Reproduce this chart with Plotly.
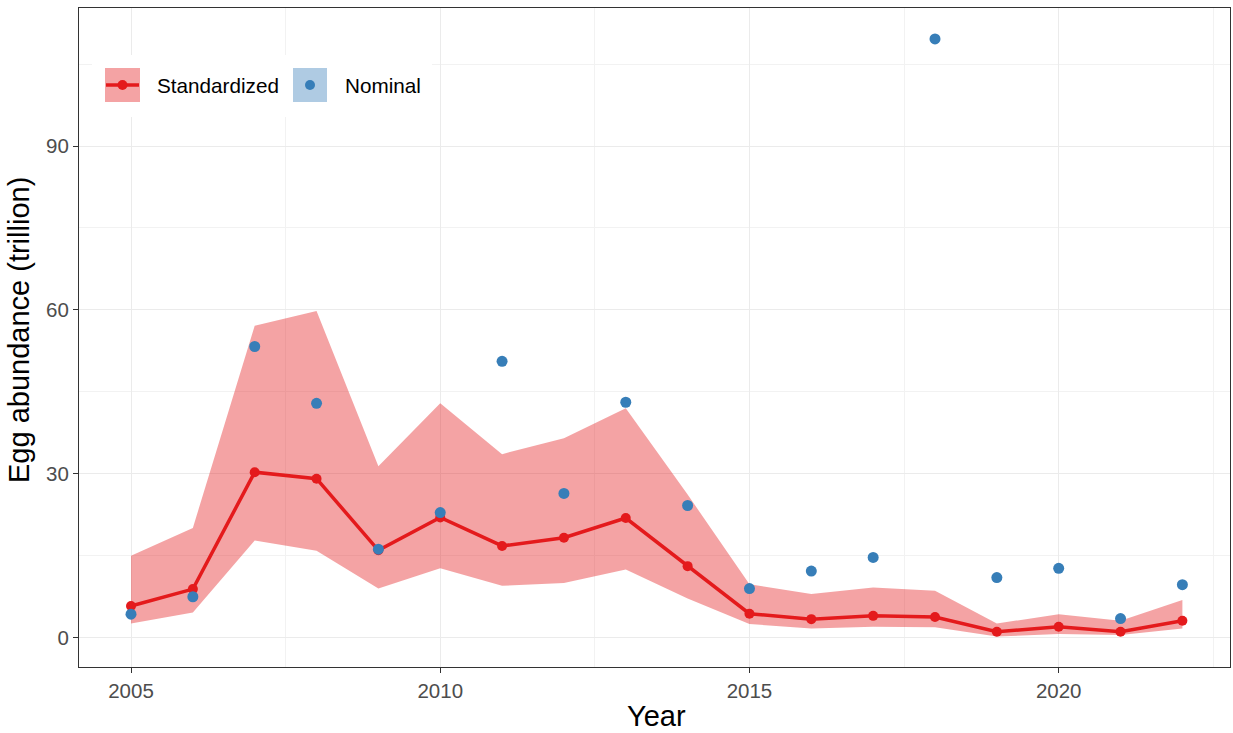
import plotly.graph_objects as go

# Survey years
years = list(range(2005, 2023))

# Standardized index of egg abundance (trillion) with its confidence band
standardized = [5.8, 8.9, 30.3, 29.1, 16.0, 22.0, 16.8, 18.3, 21.9, 13.1,
                4.4, 3.4, 4.0, 3.8, 1.1, 2.0, 1.1, 3.1]
upper_ci = [15.0, 20.1, 57.1, 59.8, 31.4, 42.9, 33.6, 36.5, 42.0, 26.2,
            9.8, 8.0, 9.2, 8.6, 2.6, 4.3, 3.1, 6.9]
lower_ci = [2.6, 4.6, 17.8, 15.9, 9.0, 12.7, 9.5, 10.0, 12.5, 7.2,
            2.5, 1.7, 2.0, 1.9, 0.2, 0.7, 0.5, 1.7]

# Nominal (raw) egg abundance
nominal = [4.3, 7.5, 53.3, 42.9, 16.2, 22.9, 50.6, 26.4, 43.1, 24.2,
           9.0, 12.2, 14.7, 109.6, 11.0, 12.7, 3.5, 9.7]

x_ticks = [2005, 2010, 2015, 2020]
y_ticks = [0, 30, 60, 90]

RED = "#E41A1C"
BLUE = "#377EB8"
BAND = "rgba(228,26,28,0.4)"
BLUE_BAND = "rgba(55,126,184,0.4)"
FONT = "Liberation Sans, Arial, sans-serif"

W, H = 1233, 733
ML, MR, MT, MB = 79, 3, 8, 66

fig = go.Figure()

# Confidence band as a closed polygon
fig.add_trace(go.Scatter(
    x=years + years[::-1],
    y=upper_ci + lower_ci[::-1],
    fill="toself", fillcolor=BAND, line=dict(width=0),
    mode="lines", hoverinfo="skip", showlegend=False,
))

fig.add_trace(go.Scatter(
    x=years, y=standardized, mode="lines+markers",
    line=dict(color=RED, width=3.5),
    marker=dict(color=RED, size=10),
    name="Standardized", showlegend=False,
))

fig.add_trace(go.Scatter(
    x=years, y=nominal, mode="markers",
    marker=dict(color=BLUE, size=11),
    name="Nominal", showlegend=False,
))

grid = "#EBEBEB"
fig.update_xaxes(
    range=[2004.159, 2022.77], tickvals=x_ticks, ticktext=[str(v) for v in x_ticks],
    showgrid=True, gridcolor=grid, gridwidth=1.2,
    minor=dict(tickvals=[2007.5, 2012.5, 2017.5, 2022.5], showgrid=True,
               gridcolor="#F2F2F2", gridwidth=0.8, ticks=""),
    ticks="outside", ticklen=5, tickcolor="#333333", tickwidth=1.1,
    showline=True, linecolor="#333333", linewidth=1.1, mirror=True,
    zeroline=False,
    tickfont=dict(family=FONT, size=20.5, color="#4D4D4D"),
)
fig.update_yaxes(
    range=[-5.36, 115.26], tickvals=y_ticks, ticktext=[str(v) for v in y_ticks],
    showgrid=True, gridcolor=grid, gridwidth=1.2,
    minor=dict(tickvals=[15, 45, 75, 105], showgrid=True,
               gridcolor="#F2F2F2", gridwidth=0.8, ticks=""),
    ticks="outside", ticklen=5, tickcolor="#333333", tickwidth=1.1,
    showline=True, linecolor="#333333", linewidth=1.1, mirror=True,
    zeroline=False,
    tickfont=dict(family=FONT, size=20.5, color="#4D4D4D"),
)


def px(xpix):
    return (xpix - ML) / (W - ML - MR)


def py(ypix):
    return (H - MB - ypix) / (H - MT - MB)


shapes = []
# Legend background
shapes.append(dict(type="rect", xref="paper", yref="paper", layer="above",
                   x0=px(92), x1=px(432), y0=py(117), y1=py(55),
                   fillcolor="white", line=dict(width=0)))
# Standardized key
shapes.append(dict(type="rect", xref="paper", yref="paper", layer="above",
                   x0=px(105), x1=px(140), y0=py(102), y1=py(68),
                   fillcolor=BAND, line=dict(width=0)))
shapes.append(dict(type="line", xref="paper", yref="paper", layer="above",
                   x0=px(106), x1=px(139), y0=py(85), y1=py(85),
                   line=dict(color=RED, width=3.5)))
shapes.append(dict(type="circle", xref="paper", yref="paper", layer="above",
                   x0=px(117.5), x1=px(127.5), y0=py(90), y1=py(80),
                   fillcolor=RED, line=dict(width=0)))
# Nominal key
shapes.append(dict(type="rect", xref="paper", yref="paper", layer="above",
                   x0=px(293), x1=px(327), y0=py(102), y1=py(68),
                   fillcolor=BLUE_BAND, line=dict(width=0)))
shapes.append(dict(type="circle", xref="paper", yref="paper", layer="above",
                   x0=px(305), x1=px(315), y0=py(90), y1=py(80),
                   fillcolor=BLUE, line=dict(width=0)))

annotations = [
    dict(text="Standardized", xref="paper", yref="paper", x=px(155), y=py(86),
         xanchor="left", yanchor="middle", showarrow=False,
         font=dict(family=FONT, size=20.7, color="black")),
    dict(text="Nominal", xref="paper", yref="paper", x=px(343), y=py(86),
         xanchor="left", yanchor="middle", showarrow=False,
         font=dict(family=FONT, size=20.7, color="black")),
    dict(text="Year", xref="paper", yref="paper", x=px(657), y=py(716),
         xanchor="center", yanchor="middle", showarrow=False,
         font=dict(family=FONT, size=29, color="black")),
    dict(text="Egg abundance (trillion)", xref="paper", yref="paper",
         x=px(19), y=py(330), textangle=-90,
         xanchor="center", yanchor="middle", showarrow=False,
         font=dict(family=FONT, size=29, color="black")),
]

fig.update_layout(
    width=W, height=H,
    margin=dict(l=ML, r=MR, t=MT, b=MB, autoexpand=False),
    plot_bgcolor="white", paper_bgcolor="white",
    shapes=shapes, annotations=annotations,
    showlegend=False,
)

fig.write_html("out.html")
